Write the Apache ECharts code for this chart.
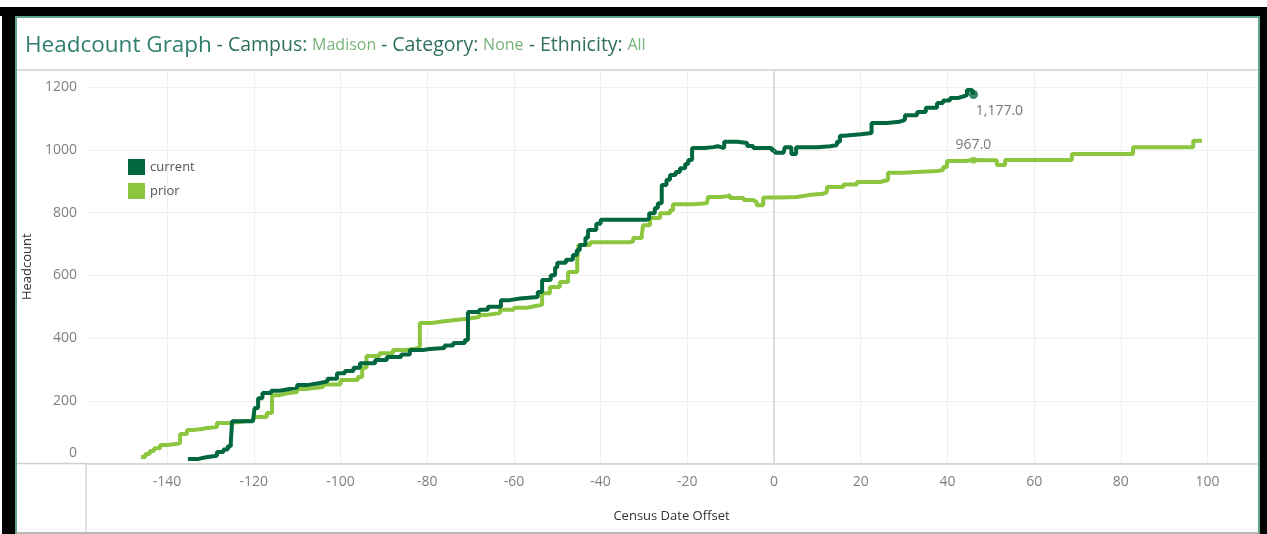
<!DOCTYPE html>
<html>
<head>
<meta charset="utf-8">
<title>Headcount Graph</title>
<script src="https://cdn.jsdelivr.net/npm/echarts@6/dist/echarts.min.js"></script>
<style>
  html, body { margin: 0; padding: 0; background: #fff; }
  #chart { width: 1267px; height: 534px; }
</style>
</head>
<body>
<div id="chart"></div>
<script>
// census date offset (days) -> headcount; each point starts a new step
const currentData = [
  [-135.2, 14], [-133, 20], [-131, 25], [-128.5, 37], [-127, 45], [-126, 55], [-125.3, 68],
  [-125, 135], [-120.2, 140], [-119.8, 177], [-119, 208], [-118, 225], [-116, 232], [-114, 237],
  [-112, 242], [-110, 250], [-107.7, 256], [-105, 262], [-103, 270], [-100.8, 288], [-99, 295],
  [-97, 305], [-95.5, 320], [-92, 330], [-89.3, 340], [-86, 348], [-84, 362], [-81, 365],
  [-79.4, 368], [-76, 376], [-74, 384], [-71.3, 394], [-70.6, 483], [-68, 490], [-66, 500],
  [-63, 521], [-61, 526], [-58.6, 531], [-54.5, 547], [-53.5, 585], [-51.5, 600], [-50.5, 625],
  [-50, 640], [-48, 650], [-46.4, 665], [-45.5, 680], [-44.8, 697], [-43.5, 720], [-42.9, 745],
  [-41, 765], [-40, 777], [-29.5, 780], [-28.8, 798], [-27.5, 815], [-26.8, 830], [-25.9, 888],
  [-24.8, 905], [-24, 920], [-22.7, 930], [-21.7, 942], [-20.5, 955], [-19.8, 968], [-18.9, 1006],
  [-16, 1009], [-14, 1012], [-13, 1006], [-11.5, 1026], [-8.5, 1022], [-6.2, 1013], [-4.8, 1006],
  [-0.5, 998], [0.2, 991], [2.2, 987], [2.5, 1009], [4, 987], [5.1, 1009], [10, 1012],
  [13, 1016], [14.5, 1026], [15.2, 1045], [16.2, 1050], [20, 1054], [22.5, 1086], [26, 1090],
  [29, 1096], [30.2, 1111], [33, 1121], [35, 1135], [37.6, 1150], [39, 1158], [40.6, 1166],
  [42.5, 1172], [44, 1175], [44.5, 1191], [45.7, 1191], [46, 1177]
];
const priorData = [
  [-146, 21], [-145, 30], [-144, 40], [-143, 49], [-141.6, 59], [-140, 62], [-138, 65],
  [-137, 94], [-135.4, 107], [-134, 110], [-132, 113], [-130.8, 116], [-128.5, 129], [-125.5, 135],
  [-122, 140], [-120, 148], [-117, 161], [-115.8, 218], [-114, 224], [-112.3, 228], [-110, 238],
  [-107.7, 244], [-104, 252], [-100, 266], [-96, 276], [-95, 305], [-94, 343], [-91, 352],
  [-87.9, 362], [-85, 367], [-82.4, 372], [-81.7, 448], [-79, 452], [-77, 457], [-74, 462],
  [-70.8, 467], [-68, 474], [-66.2, 480], [-63.2, 490], [-60, 497], [-57, 503], [-54.7, 506],
  [-53.5, 543], [-51.7, 563], [-49.4, 579], [-47.5, 611], [-45.4, 649], [-45.1, 697], [-42.4, 706],
  [-33.2, 708], [-32.5, 719], [-30.5, 729], [-30.2, 760], [-28.6, 783], [-26.3, 798], [-24, 808],
  [-23.3, 827], [-18.7, 830], [-15.5, 834], [-15.2, 850], [-12.5, 852], [-10.8, 856], [-10.2, 847],
  [-7, 840], [-4.8, 834], [-4, 824], [-2.5, 848], [1.4, 850], [5.3, 856], [8, 860],
  [11.3, 866], [12.2, 882], [16, 890], [19.1, 898], [24.5, 904], [26.3, 927], [29.8, 930],
  [33, 933], [37.6, 936], [39, 946], [39.9, 965], [44, 968], [46, 967], [51.4, 952],
  [53.3, 968], [68.7, 987], [82.8, 1009], [96.7, 1029], [98.7, 1029]
];
const currentEnd = [46, 1177];
const priorMark = [46, 967];

const xTicks = [-140, -120, -100, -80, -60, -40, -20, 0, 20, 40, 60, 80, 100];
const yTicks = [0, 200, 400, 600, 800, 1000, 1200];

const currentColor = '#00673f';
const priorColor = '#8cc63f';
const font = '"Open Sans", sans-serif';

const myChart = echarts.init(document.getElementById('chart'));

const option = {
  animation: false,
  textStyle: { fontFamily: font },
  title: {
    left: 20,
    top: 29,
    text: '{a|Headcount Graph} {b|- Campus:} {c|Madison} {b|- Category:} {c|None}{b| - Ethnicity:} {c|All}',
    textStyle: {
      fontWeight: 'normal',
      rich: {
        a: { fontSize: 22.5, color: '#2f7f6f', fontWeight: 'normal', fontFamily: font },
        b: { fontSize: 19.5, color: '#2f6f60', fontWeight: 'normal', fontFamily: font },
        c: { fontSize: 16, color: '#78b47a', fontWeight: 'normal', fontFamily: font }
      }
    }
  },
  legend: {
    orient: 'vertical',
    left: 123,
    top: 154,
    icon: 'rect',
    itemWidth: 17,
    itemHeight: 16,
    itemGap: 8,
    data: ['current', 'prior'],
    textStyle: { fontSize: 13, color: '#555' }
  },
  grid: { left: 86, right: 10, top: 70, bottom: 70.5 },
  xAxis: {
    type: 'value',
    min: -158.7,
    max: 111.4,
    name: 'Census Date Offset',
    nameLocation: 'middle',
    nameGap: 46,
    nameTextStyle: { fontSize: 13, color: '#333' },
    axisLine: { lineStyle: { color: '#cfcfcf', width: 1.5 } },
    axisTick: { show: false, customValues: xTicks },
    axisLabel: { customValues: xTicks, color: '#7f7f7f', fontSize: 14, margin: 12 },
    splitLine: { lineStyle: { color: '#efefef' } }
  },
  yAxis: {
    type: 'value',
    min: 0,
    max: 1255,
    name: 'Headcount',
    nameLocation: 'middle',
    nameGap: 45,
    nameTextStyle: { fontSize: 13, color: '#333' },
    axisLine: { show: true, lineStyle: { color: '#d6d6d6', width: 1.5 } },
    axisTick: { show: false, customValues: yTicks },
    axisLabel: {
      customValues: yTicks,
      color: '#7f7f7f',
      fontSize: 14,
      margin: 9,
      formatter: v => (v === 0 ? '{z|0}' : String(v)),
      rich: { z: { padding: [0, 0, 20, 0], fontSize: 14, color: '#7f7f7f' } }
    },
    splitLine: { lineStyle: { color: '#efefef' } }
  },
  series: [
    {
      name: 'prior',
      type: 'line',
      step: 'end',
      data: priorData,
      showSymbol: false,
      color: priorColor,
      lineStyle: { width: 4, color: priorColor },
      markLine: {
        silent: true,
        symbol: 'none',
        label: { show: false },
        lineStyle: { type: [1, 3], color: '#d0d0d0', width: 1 },
        data: [{ xAxis: 0 }]
      },
      z: 2
    },
    {
      name: 'current',
      type: 'line',
      step: 'end',
      data: currentData,
      showSymbol: false,
      color: currentColor,
      lineStyle: { width: 4, color: currentColor },
      z: 3
    },
    {
      name: 'current end',
      type: 'scatter',
      data: [currentEnd],
      symbolSize: 9,
      itemStyle: { color: currentColor },
      label: {
        show: true,
        position: 'bottom',
        offset: [26, 0],
        formatter: p => p.value[1].toLocaleString('en-US', { minimumFractionDigits: 1 }),
        color: '#555',
        fontSize: 14
      },
      z: 4
    },
    {
      name: 'prior mark',
      type: 'scatter',
      data: [priorMark],
      symbolSize: 7,
      itemStyle: { color: priorColor },
      label: {
        show: true,
        position: 'top',
        formatter: p => p.value[1].toFixed(1),
        color: '#555',
        fontSize: 14
      },
      z: 4
    }
  ],
  graphic: [
    // dashboard frame
    { type: 'rect', shape: { x: 0, y: 7, width: 1267, height: 9 }, style: { fill: '#000' }, z: 10 },
    { type: 'rect', shape: { x: 2, y: 7, width: 13, height: 527 }, style: { fill: '#000' }, z: 10 },
    { type: 'rect', shape: { x: 1260, y: 7, width: 7, height: 527 }, style: { fill: '#000' }, z: 10 },
    { type: 'line', shape: { x1: 16, y1: 16, x2: 16, y2: 534 }, style: { stroke: '#5fa58a', lineWidth: 2 }, z: 10 },
    { type: 'line', shape: { x1: 1259, y1: 16, x2: 1259, y2: 534 }, style: { stroke: '#5fa58a', lineWidth: 2 }, z: 10 },
    { type: 'line', shape: { x1: 16, y1: 17, x2: 1259, y2: 17 }, style: { stroke: '#5fa58a', lineWidth: 2 }, z: 10 },
    { type: 'line', shape: { x1: 16, y1: 533, x2: 1259, y2: 533 }, style: { stroke: '#a0a0a0', lineWidth: 1.5 }, z: 10 },
    // title separator, axis line extensions
    { type: 'line', shape: { x1: 17, y1: 70, x2: 1258, y2: 70 }, style: { stroke: '#dcdcdc', lineWidth: 2 }, z: 1 },
    { type: 'line', shape: { x1: 86, y1: 463.5, x2: 86, y2: 533 }, style: { stroke: '#d6d6d6', lineWidth: 1.5 }, z: 1 },
    { type: 'line', shape: { x1: 17, y1: 463.5, x2: 86, y2: 463.5 }, style: { stroke: '#cfcfcf', lineWidth: 1.5 }, z: 1 }
  ]
};

myChart.setOption(option);
</script>
</body>
</html>
